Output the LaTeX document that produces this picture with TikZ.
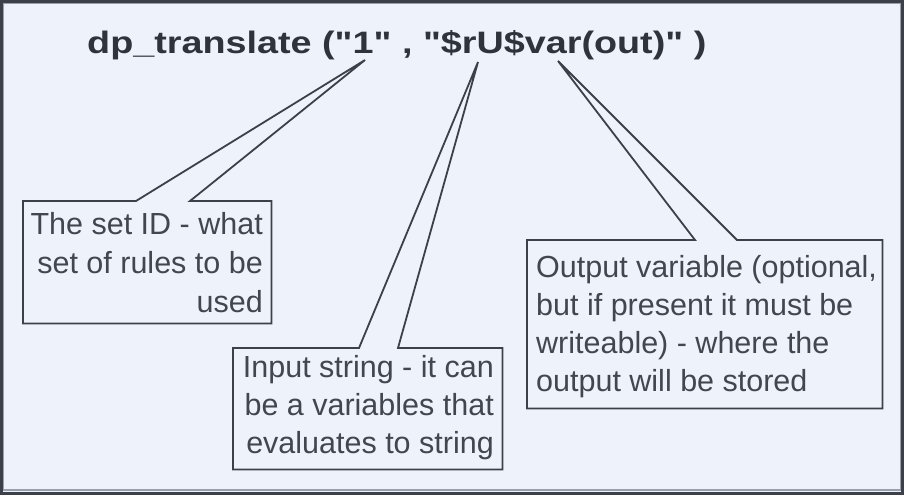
\documentclass[tikz,border=0pt]{standalone}
\usepackage{fontspec}
\setmainfont{Liberation Sans}
\newfontfamily\titlefont{Liberation Sans}[Ligatures=TeXOff]
\usepackage{graphicx}
\definecolor{bgc}{HTML}{EEF2FB}
\definecolor{inkc}{HTML}{3C4048}
\definecolor{txtc}{HTML}{42464E}
\definecolor{titc}{HTML}{2F333B}
\definecolor{framegray}{HTML}{9AA0AB}
\tikzset{
  boxframe/.style={draw=none, fill=none, rectangle, inner sep=0pt, anchor=north west},
  callout/.style={draw=inkc, line width=1.8pt, line join=miter},
  bodyline/.style={inner sep=0pt, text=txtc, font=\fontsize{30.5}{38}\selectfont},
  titletext/.style={inner sep=0pt, text=titc, font=\titlefont\fontsize{31}{36}\selectfont\bfseries, anchor=base west}
}
\begin{document}
\begin{tikzpicture}[x=1pt, y=-1pt]
  \useasboundingbox (0,0) rectangle (904,495);
  \fill[bgc] (0,0) rectangle (904,495);
  \draw[framegray, line width=1.5pt] (3.2,3.2) rectangle (900.8,489.8);
  \draw[inkc, line width=2.6pt] (1.3,1.3) rectangle (902.7,493.2);

  % title
  \node[titletext] (title) at (87,53) {\scalebox{1.218}[1]{dp\_translate ("1" , "\$rU\$var(out)" )}};

  % apex points under the title
  \coordinate (apexA) at (365,60);
  \coordinate (apexB) at (478,62);
  \coordinate (apexC) at (558,61);

  % box 1
  \node[boxframe, minimum width=248pt, minimum height=122pt] (b1) at (23,201) {};
  \coordinate (b1f1) at (136,201);
  \coordinate (b1f2) at (190,201);
  \draw[callout] (b1.north west) -- (b1f1) -- (apexA) -- (b1f2) -- (b1.north east)
     -- (b1.south east) -- (b1.south west) -- cycle;
  \node[bodyline, anchor=base east] (t11) at (263,234) {The set ID - what};
  \node[bodyline, anchor=base east] (t12) at (263,273) {set of rules to be};
  \node[bodyline, anchor=base east] (t13) at (263,312) {used};

  % box 2
  \node[boxframe, minimum width=269pt, minimum height=121pt] (b2) at (233,348) {};
  \coordinate (b2f1) at (359,348);
  \coordinate (b2f2) at (398,348);
  \draw[callout] (b2.north west) -- (b2f1) -- (apexB) -- (b2f2) -- (b2.north east)
     -- (b2.south east) -- (b2.south west) -- cycle;
  \node[bodyline, anchor=base east] (t21) at (494,377) {Input string - it can};
  \node[bodyline, anchor=base east] (t22) at (494,415) {be a variables that};
  \node[bodyline, anchor=base east] (t23) at (494,453) {evaluates to string};

  % box 3
  \node[boxframe, minimum width=355pt, minimum height=168pt] (b3) at (527,240) {};
  \coordinate (b3f1) at (695,240);
  \coordinate (b3f2) at (737,240);
  \draw[callout] (b3.north west) -- (b3f1) -- (apexC) -- (b3f2) -- (b3.north east)
     -- (b3.south east) -- (b3.south west) -- cycle;
  \node[bodyline, anchor=base west] (t31) at (536,277) {Output variable (optional,};
  \node[bodyline, anchor=base west] (t32) at (536,315) {but if present it must be};
  \node[bodyline, anchor=base west] (t33) at (536,353) {writeable) - where the};
  \node[bodyline, anchor=base west] (t34) at (536,391) {output will be stored};
\end{tikzpicture}
\end{document}
